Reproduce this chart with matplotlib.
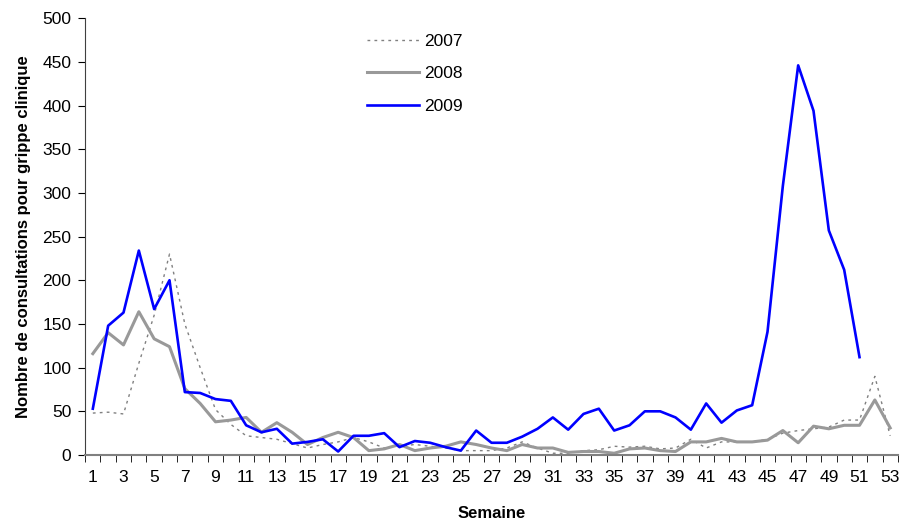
import numpy as np
import matplotlib
matplotlib.use('Agg')
import matplotlib.pyplot as plt

plt.rcParams['font.family'] = ['Liberation Sans', 'DejaVu Sans']

#weekly data
weeks = list(range(1, 54))
val_2007 = [48, 49, 47, 105, 160, 230, 150, 100, 52, 35, 22, 20, 18, 13, 8, 12, 15, 20, 15, 8,
            10, 12, 10, 8, 5, 5, 5, 8, 15, 8, 2, 2, 5, 6, 10, 9, 10, 7, 8, 18,
            8, 15, 15, 15, 18, 25, 28, 30, 32, 40, 40, 90, 22]
val_2008 = [116, 140, 126, 164, 133, 124, 76, 59, 38, 40, 43, 26, 37, 26, 12, 20, 26, 20, 5, 7,
            12, 5, 8, 10, 15, 12, 8, 5, 12, 8, 8, 3, 4, 4, 2, 7, 8, 5, 4, 15,
            15, 19, 15, 15, 17, 28, 14, 33, 30, 34, 34, 63, 31]
val_2009 = [53, 148, 163, 234, 167, 200, 72, 71, 64, 62, 34, 26, 30, 13, 15, 18, 4, 22, 22, 25,
            9, 16, 14, 9, 5, 28, 14, 14, 21, 30, 43, 29, 47, 53, 28, 34, 50, 50, 43, 29,
            59, 37, 51, 57, 141, 308, 446, 394, 257, 212, 112]
xtick_labels = [str(w) for w in range(1, 54, 2)]

fig = plt.figure(figsize=(9.06, 5.2), dpi=100)
ax = fig.add_axes([0.094, 0.125, 0.897, 0.84])

ax.plot(weeks, val_2007, color='#808080', lw=1.0, linestyle=(0, (2, 3)), label='2007')
ax.plot(weeks, val_2008, color='#999999', lw=2.2, label='2008')
ax.plot(weeks[:len(val_2009)], val_2009, color='#0000FF', lw=1.9, label='2009')

ax.set_xlim(0.5, 53.5)
ax.set_ylim(0, 500)
ax.set_yticks(np.arange(0, 501, 50))
ax.set_xticks(range(1, 54, 2))
ax.set_xticklabels(xtick_labels)
ax.set_xticks(np.arange(0.5, 54, 1), minor=True)
ax.tick_params(axis='x', which='major', length=0, pad=11, labelsize=12.5)
ax.tick_params(axis='x', which='minor', length=5, direction='out', color='black')
ax.tick_params(axis='y', length=5, direction='out', labelsize=12.5, pad=5)

for s in ['top', 'right']:
    ax.spines[s].set_visible(False)
ax.spines['left'].set_color('#404040')
ax.spines['bottom'].set_color('#808080')
ax.spines['bottom'].set_linewidth(1.5)

ax.set_xlabel('Semaine', fontweight='bold', fontsize=12, labelpad=15)
ax.set_ylabel('Nombre de consultations pour grippe clinique', fontweight='bold', fontsize=12, labelpad=8)

ax.legend(loc='upper left', bbox_to_anchor=(0.388, 0.965), bbox_transform=fig.transFigure,
          frameon=False, fontsize=12.5, handlelength=3.0, labelspacing=1.0, handletextpad=0.3)

fig.savefig('out.png', dpi=100)
